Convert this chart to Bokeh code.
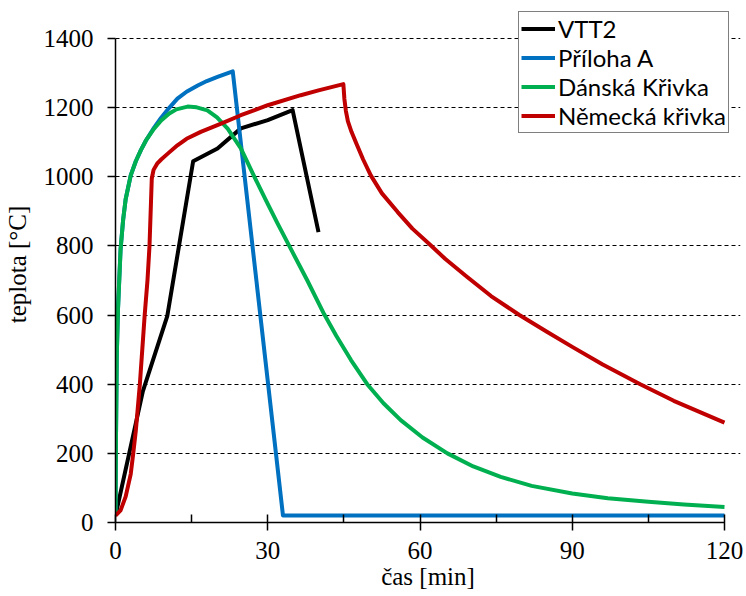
from bokeh.plotting import figure
from bokeh.models import FixedTicker, Legend, LegendItem, Range1d
from bokeh.embed import file_html
from bokeh.resources import INLINE

# ---- data ----
x_ticks = [0, 30, 60, 90, 120]
x_minor = [15, 45, 75, 105]
y_ticks = [0, 200, 400, 600, 800, 1000, 1200, 1400]

series_names = ["VTT2", "Příloha A", "Dánská Křivka", "Německá křivka"]

vtt2_t = [0, 5.4, 10.2, 15.3, 20.1, 24.7, 30, 34.9, 40]
vtt2_T = [20, 380, 597, 1045, 1082, 1140, 1164, 1193, 840]

priloha_t = [0, 0.1, 0.25, 0.5, 1, 1.5, 2, 3, 4, 5, 6, 7.6, 9, 10.5, 12.2, 14, 16.2, 18, 20.1, 23.1, 33, 120]
priloha_T = [20, 250, 480, 620, 790, 875, 935, 1004, 1045, 1077, 1105, 1142, 1171, 1198, 1226, 1246, 1264, 1277, 1289, 1305, 20, 20]

danska_t = [0, 0.1, 0.25, 0.5, 1, 1.5, 2, 3, 4, 5, 6, 7.6, 9, 10.6, 12, 14.2, 16, 18.1, 20, 22.1, 24.7,
            27.3, 29.6, 31.9, 34.7, 37.8, 41.1, 43.5, 46.4, 49.6, 52.8, 56.2, 60.5, 65.4, 70.5, 75.9, 82, 90, 97, 105, 112, 120]
danska_T = [20, 250, 480, 620, 790, 875, 935, 1004, 1045, 1077, 1105, 1139, 1163, 1183, 1195, 1203, 1201, 1192, 1172, 1139, 1082,
            1002, 933, 866, 787, 700, 603, 540, 470, 400, 345, 296, 246, 200, 162, 132, 106, 84, 70, 60, 52, 45]

nemecka_t = [0, 1, 2, 3, 3.5, 4, 4.8, 5.75, 6.3, 6.7, 7.0, 7.15, 7.5, 8.2, 9, 10.3, 12.2, 14, 16.8, 20.8, 24.7, 30, 36.5, 40,
             44.9, 45.1, 45.4, 45.8, 46.5, 47.5, 48.8, 50.3, 52.5, 55.6, 58.5, 62.1, 65, 69.3, 74, 79.5, 85, 90, 96, 103.4, 110, 120]
nemecka_T = [20, 35, 75, 140, 200, 265, 400, 600, 700, 800, 930, 995, 1020, 1038, 1050, 1067, 1091, 1110, 1130, 1154, 1178, 1207, 1236, 1250,
             1268, 1225, 1190, 1160, 1130, 1095, 1050, 1004, 952, 898, 850, 802, 762, 710, 655, 601, 552, 508, 457, 400, 352, 289]

colors = ["#000000", "#0070C0", "#00B050", "#C00000"]

SERIF = "Liberation Serif"

# frame: x 0..120 spans screen 115..724, y 0..1400 spans screen 522..38
# the frame is extended (axes bounded) so the legend can sit above/right of the data area
X_END = 120 * 625 / 609
Y_END = 1400 * 516 / 484

p = figure(width=746, height=596, output_backend="svg", toolbar_location=None,
           x_range=Range1d(0, X_END), y_range=Range1d(0, Y_END),
           min_border_left=115, min_border_right=6, min_border_top=6, min_border_bottom=74)
p.outline_line_color = None
p.background_fill_color = "white"
p.border_fill_color = "white"

p.xgrid.visible = False
p.ygrid.ticker = FixedTicker(ticks=[t for t in y_ticks if t > 0])
p.ygrid.grid_line_color = "black"
p.ygrid.grid_line_dash = "4 3"
p.ygrid.grid_line_width = 1
p.ygrid.bounds = (0, 120)

p.xaxis.ticker = FixedTicker(ticks=x_ticks, minor_ticks=x_minor)
p.yaxis.ticker = FixedTicker(ticks=y_ticks, minor_ticks=[])
p.xaxis.bounds = (0, 120)
p.yaxis.bounds = (0, 1400)

for ax in (p.xaxis, p.yaxis):
    ax.axis_line_color = "black"
    ax.axis_line_width = 1.5
    ax.major_tick_line_color = "black"
    ax.major_tick_line_width = 1.5
    ax.minor_tick_line_color = "black"
    ax.minor_tick_line_width = 1.5
    ax.major_label_text_font = SERIF
    ax.major_label_text_font_size = "25px"
    ax.major_label_text_color = "black"
    ax.axis_label_text_font = SERIF
    ax.axis_label_text_font_size = "25px"
    ax.axis_label_text_font_style = "normal"
    ax.axis_label_text_color = "black"

p.xaxis.major_tick_in = 8
p.xaxis.major_tick_out = 8
p.xaxis.minor_tick_in = 8
p.xaxis.minor_tick_out = 0
p.xaxis.major_label_standoff = 11
p.xaxis.axis_label = "čas [min]"
p.xaxis.axis_label_standoff = 1

p.yaxis.major_tick_in = 0
p.yaxis.major_tick_out = 8
p.yaxis.minor_tick_in = 0
p.yaxis.minor_tick_out = 0
p.yaxis.major_label_standoff = 14
p.yaxis.axis_label = "teplota [°C]"
p.yaxis.axis_label_standoff = 10

xs = [vtt2_t, priloha_t, danska_t, nemecka_t]
ys = [vtt2_T, priloha_T, danska_T, nemecka_T]
renderers = []
for x, y, c in zip(xs, ys, colors):
    r = p.line(x, y, line_color=c, line_width=4, line_join="round")
    renderers.append(r)

legend = Legend(items=[LegendItem(label=n, renderers=[r]) for n, r in zip(series_names, renderers)],
                location=(403, 389))
legend.label_text_font = "Lato"
legend.label_text_font_size = "24px"
legend.label_text_color = "black"
legend.glyph_width = 34
legend.glyph_height = 29
legend.label_height = 29
legend.label_standoff = 3
legend.spacing = 0
legend.padding = 2
legend.margin = 0
legend.border_line_color = "black"
legend.border_line_width = 1.2
legend.background_fill_color = "white"
legend.background_fill_alpha = 1
p.add_layout(legend)

open("out.html", "w").write(file_html(p, INLINE))
